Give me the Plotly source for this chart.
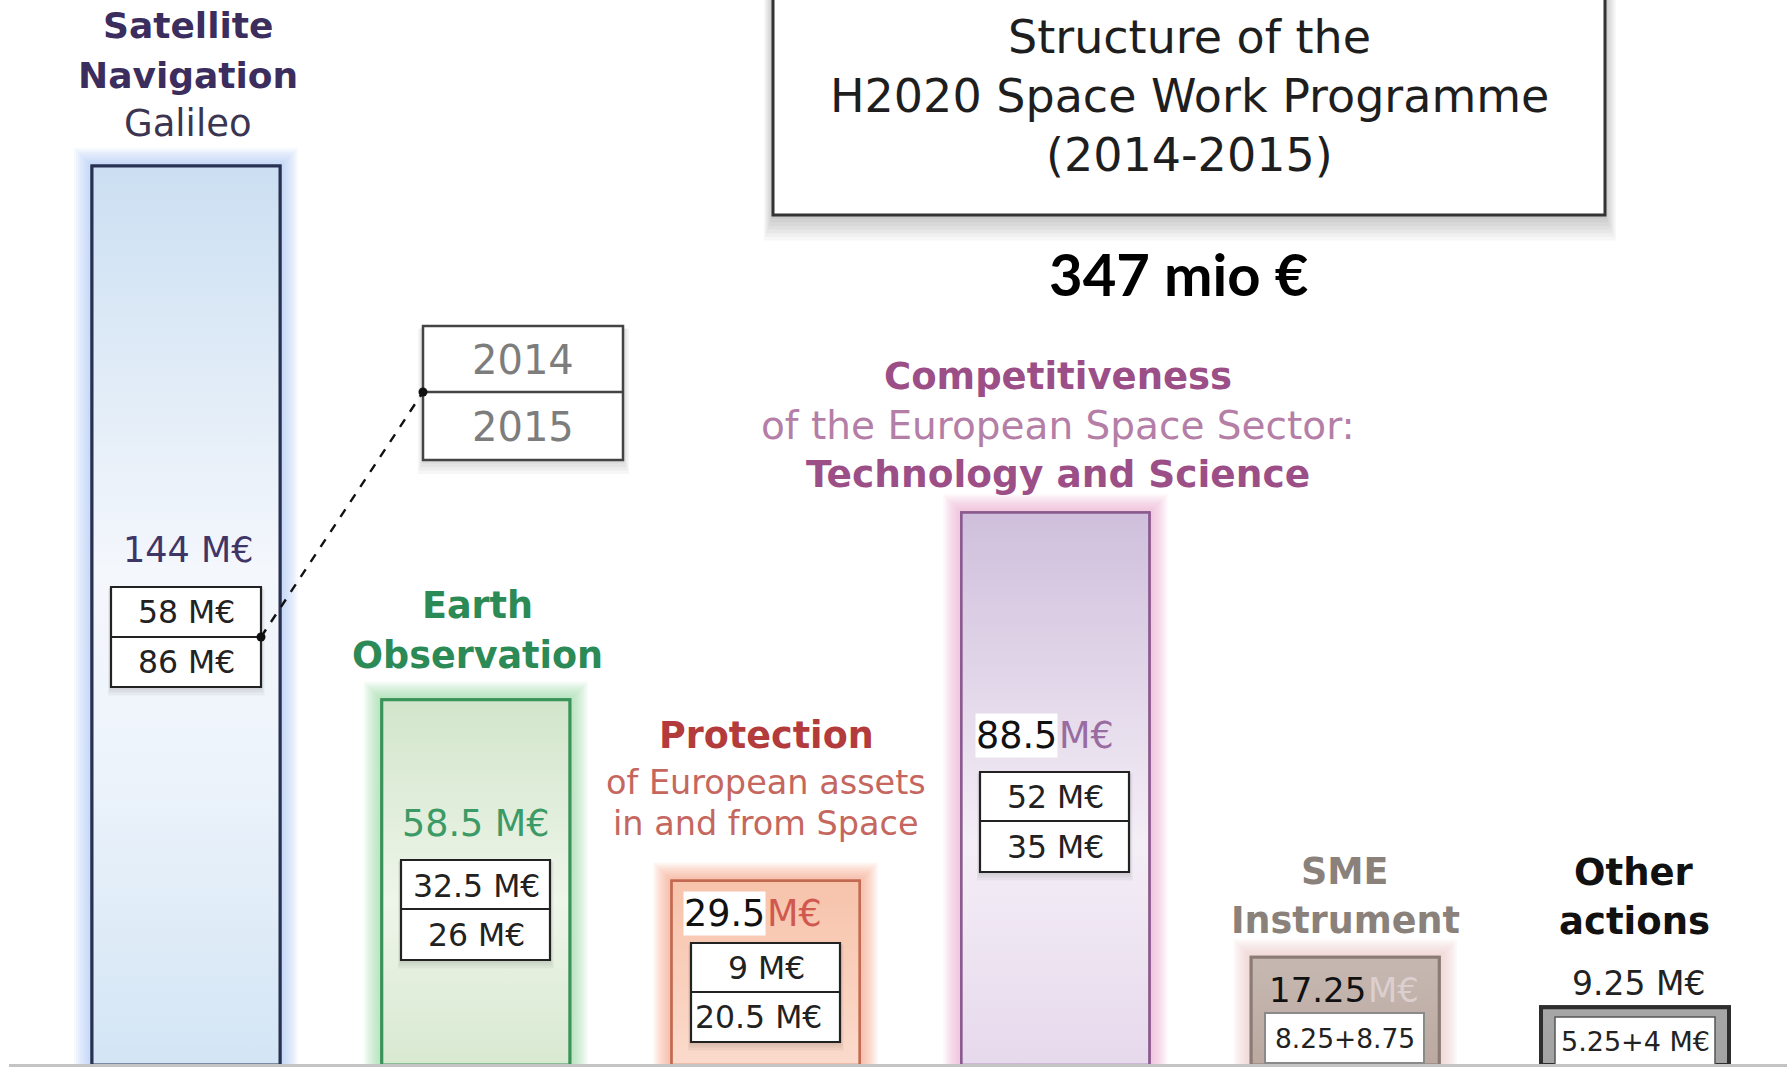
import plotly.graph_objects as go

# ---------------- data ----------------
categories = ["Satellite Navigation", "Earth Observation", "Protection",
              "Competitiveness", "SME Instrument", "Other actions"]
totals = [144, 58.5, 29.5, 88.5, 17.25, 9.25]          # M€ 2014+2015
part_2014 = ["58 M€", "32.5 M€", "9 M€", "52 M€", "8.25+8.75", "5.25+4 M€"]
part_2015 = ["86 M€", "26 M€", "20.5 M€", "35 M€", None, None]
total_label = ["144 M€", "58.5 M€", "29.5", "88.5", "17.25", "9.25 M€"]
year_labels = ["2014", "2015"]
title_lines = ["Structure of the", "H2020 Space Work Programme", "(2014-2015)"]
grand_total = "347 mio €"

# ---------------- geometry / styles ----------------
W, H = 1787, 1067
PH = 1065                       # plot-area height (px)
X0_PX, XSTEP = 186.0, 289.8     # centre of first bar, spacing (px)
YS = 6.243                      # px per M€
BAR_W = 188 / XSTEP
xr = [-X0_PX / XSTEP, (W - X0_PX) / XSTEP]
yr = [0, PH / YS]

FONT = "DejaVu Sans"

def px(x):
    return x / W

def py(y):
    return (PH - y) / PH

border_col = ["#283152", "#3a945a", "#c46a52", "#8a5a8e", "#8a7c75", "#2e2e2e"]
border_w = [3, 3, 2.5, 2.5, 3, 4]
bar_mid = ["#e4eef8", "#e4efdf", "#f9cfbd", "#e8def0", "#c0b2aa", "#a5a5a5"]
glow_col = ["#a9c9f2", "#8fdc9c", "#f49a7c", "#efa3cf", "#e9c2c4", "#ffffff"]
grad = [
    [[0, "#d3e5f5"], [0.35, "#eef4fb"], [0.55, "#f4f7fc"], [1, "#cbdff2"]],
    [[0, "#d8e9d1"], [0.45, "#eef5e9"], [1, "#d2e5cb"]],
    [[0, "#fbdacb"], [1, "#f7c3ab"]],
    [[0, "#e6d9ec"], [0.4, "#f4eef6"], [1, "#cfbfdc"]],
    [[0, "#bba9a1"], [1, "#c6b8b1"]],
    [[0, "#a3a3a3"], [1, "#a6a6a6"]],
]

fig = go.Figure()
idx = list(range(len(totals)))

# bars
fig.add_trace(go.Bar(
    x=idx, y=totals, width=BAR_W,
    marker=dict(color=bar_mid, line=dict(color=border_col, width=border_w)),
    hoverinfo="skip", showlegend=False))

# gradient shading of each bar (polygon built from the bar's value), outlined
for i, v in enumerate(totals):
    fig.add_trace(go.Scatter(
        x=[i - BAR_W / 2, i + BAR_W / 2, i + BAR_W / 2, i - BAR_W / 2, i - BAR_W / 2],
        y=[0, 0, v, v, 0],
        mode="lines", line=dict(width=border_w[i], color=border_col[i]), fill="toself",
        fillgradient=dict(type="vertical", colorscale=grad[i], start=0, stop=v),
        hoverinfo="skip", showlegend=False))

shapes = []
# soft glow around bars
for i, v in enumerate(totals):
    if i == 5:
        continue
    for k in range(1, 10):
        pad = 2.0 * k
        shapes.append(dict(type="rect", xref="x", yref="y", layer="below",
                           x0=i - BAR_W / 2 - pad / XSTEP, x1=i + BAR_W / 2 + pad / XSTEP,
                           y0=0, y1=v + pad / YS, line=dict(width=0),
                           fillcolor=glow_col[i], opacity=0.1))


def rect(x0, y0, x1, y1, line="#222", lw=2, fill="white", layer="above", opacity=1):
    shapes.append(dict(type="rect", xref="paper", yref="paper", layer=layer,
                       x0=px(x0), x1=px(x1), y0=py(y1), y1=py(y0),
                       line=dict(color=line, width=lw), fillcolor=fill, opacity=opacity))


def hline(x0, x1, y, line="#222", lw=2):
    shapes.append(dict(type="line", xref="paper", yref="paper",
                       x0=px(x0), x1=px(x1), y0=py(y), y1=py(y),
                       line=dict(color=line, width=lw)))


def shadow(x0, y0, x1, y1, n=5, step=2.5, alpha=0.05):
    for k in range(1, n + 1):
        d = step * k
        shapes.append(dict(type="rect", xref="paper", yref="paper", layer="above",
                           x0=px(x0 - d * 0.5), x1=px(x1 + d * 0.6),
                           y0=py(y1 + d * 1.4), y1=py(y0 + d * 0.3),
                           line=dict(width=0), fillcolor="rgba(0,0,0,%.3f)" % alpha))


# title box
shadow(773, -10, 1605, 215, n=7, step=2.6, alpha=0.03)
rect(773, -10, 1605, 215, line="#333", lw=3)

# 2014/2015 legend box
shadow(423, 326, 623, 460, n=4, step=2.5, alpha=0.035)
rect(423, 326, 623, 460, line="#444", lw=2.5)
hline(423, 623, 392, line="#444", lw=2.5)

# breakdown boxes inside bars
boxes = [(111, 587, 261, 687, 637), (401, 860, 550, 960, 909),
         (691, 943, 840, 1042, 992), (980, 772, 1129, 872, 821)]
for (x0, y0, x1, y1, ym) in boxes:
    shadow(x0, y0, x1, y1, n=3, step=2, alpha=0.045)
    rect(x0, y0, x1, y1, line="#222", lw=2.2)
    hline(x0, x1, ym, line="#222", lw=2)

# SME inner box
rect(1265, 1013, 1424, 1063, line="#8a8a8a", lw=2)
# Other actions inner box
rect(1555, 1017, 1715, 1066, line="#555", lw=1.5)

# dashed connector
shapes.append(dict(type="line", xref="paper", yref="paper",
                   x0=px(261), y0=py(637), x1=px(423), y1=py(392),
                   line=dict(color="#111", width=2.4, dash="dash")))
for (cx, cy) in [(261, 637), (423, 392)]:
    shapes.append(dict(type="circle", xref="paper", yref="paper",
                       x0=px(cx - 4.5), x1=px(cx + 4.5), y0=py(cy + 4.5), y1=py(cy - 4.5),
                       line=dict(width=0), fillcolor="#111"))

# bottom rule
hline(9, W, 1065.5, line="#c4c4c4", lw=3)

annotations = []


def txt(x, y, s, size, color, bold=False, family=FONT, xanchor="center", bg=None):
    annotations.append(dict(
        x=px(x), y=py(y), xref="paper", yref="paper",
        text=("<b>%s</b>" % s) if bold else s, showarrow=False,
        font=dict(size=size, color=color, family=family),
        xanchor=xanchor, yanchor="middle", bgcolor=bg, borderpad=0))


# title
for s, yy in zip(title_lines, [37, 96, 155]):
    txt(1189, yy, s, 46, "#1e1e1e")
txt(1178, 273, grand_total, 58, "#000", bold=True, family="Lato")

# year legend
txt(523, 360, year_labels[0], 40, "#7d7d7d")
txt(523, 427, year_labels[1], 40, "#7d7d7d")

# Satellite navigation
txt(188, 25, "Satellite", 36, "#3b2d5e", bold=True)
txt(188, 75, "Navigation", 36, "#3b2d5e", bold=True)
txt(188, 124, "Galileo", 37, "#3b3552")
txt(188, 550, total_label[0], 35, "#3f3566")
txt(186, 612, part_2014[0], 31.5, "#222")
txt(186, 662, part_2015[0], 31.5, "#222")

# Earth observation
txt(477, 605, "Earth", 36.5, "#2b8a55", bold=True)
txt(477, 655, "Observation", 36.5, "#2b8a55", bold=True)
txt(476, 823, total_label[1], 36.5, "#3b9a66")
txt(476, 886, part_2014[1], 31.5, "#222")
txt(476, 935, part_2015[1], 31.5, "#222")

# Protection
txt(766, 735, "Protection", 36.5, "#b33b3b", bold=True)
txt(766, 782, "of European assets", 33.5, "#c5675e")
txt(766, 823, "in and from Space", 33.5, "#c5675e")
txt(766, 913, total_label[2], 36.5, "#111", xanchor="right", bg="white")
txt(766, 913, "M€", 36.5, "#d0584e", xanchor="left")
txt(766, 968, part_2014[2], 31.5, "#222")
txt(694, 1017, part_2015[2], 31.5, "#222", xanchor="left")

# Competitiveness
txt(1058, 376, "Competitiveness", 37, "#9c4f87", bold=True)
txt(1058, 425, "of the European Space Sector:", 39, "#b47ea6")
txt(1058, 474, "Technology and Science", 37.5, "#9c4f87", bold=True)
txt(1058, 735, total_label[3], 36.5, "#111", xanchor="right", bg="white")
txt(1058, 735, "M€", 36.5, "#9a6ba0", xanchor="left")
txt(1055, 797, part_2014[3], 31.5, "#222")
txt(1055, 847, part_2015[3], 31.5, "#222")

# SME instrument
txt(1345, 871, "SME", 36.5, "#8b817b", bold=True)
txt(1345, 920, "Instrument", 36.5, "#8b817b", bold=True)
txt(1367, 990, total_label[4], 34, "#111", xanchor="right")
txt(1367, 990, "M€", 34, "#dccfcf", xanchor="left")
txt(1345, 1038, part_2014[4], 26.5, "#222")

# Other actions
txt(1634, 872, "Other", 37, "#111", bold=True)
txt(1634, 921, "actions", 37, "#111", bold=True)
txt(1638, 983, total_label[5], 33, "#222")
txt(1635, 1041, part_2014[5], 27, "#222")

fig.update_layout(
    width=W, height=H,
    margin=dict(l=0, r=0, t=0, b=H - PH, pad=0),
    paper_bgcolor="white", plot_bgcolor="white",
    barmode="overlay", showlegend=False,
    xaxis=dict(range=xr, visible=False, fixedrange=True),
    yaxis=dict(range=yr, visible=False, fixedrange=True),
    shapes=shapes, annotations=annotations,
)

fig.write_html("out.html", config={"displayModeBar": False},
               post_script="document.body.style.margin='0';document.body.style.overflow='hidden';")
